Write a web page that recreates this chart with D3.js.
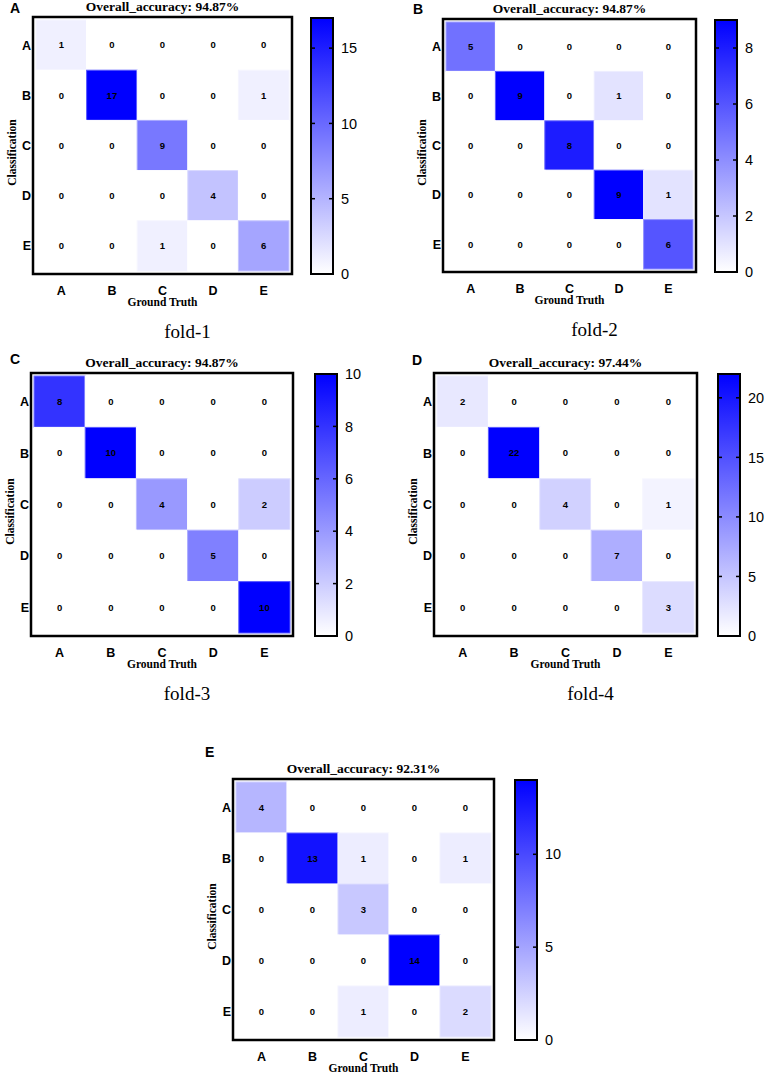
<!DOCTYPE html>
<html>
<head>
<meta charset="utf-8">
<script src="https://cdn.jsdelivr.net/npm/d3@7"></script>
<style>
  body { margin: 0; background: #fff; }
  svg { display: block; }
  .sans { font-family: "Liberation Sans", Arial, sans-serif; }
  .serif { font-family: "Liberation Serif", "Times New Roman", serif; }
</style>
</head>
<body>
<div id="chart"></div>
<script>
var width = 765,
    height = 1084;

// data
var classes = ["A", "B", "C", "D", "E"];
var foldNames = ["fold-1", "fold-2", "fold-3", "fold-4", ""];
var panelLetters = ["A", "B", "C", "D", "E"];
var accuracy = [94.87, 94.87, 94.87, 97.44, 92.31];

// rows = Classification, cols = Ground Truth
var fold1 = [[1,0,0,0,0],[0,17,0,0,1],[0,0,9,0,0],[0,0,0,4,0],[0,0,1,0,6]];
var fold2 = [[5,0,0,0,0],[0,9,0,1,0],[0,0,8,0,0],[0,0,0,9,1],[0,0,0,0,6]];
var fold3 = [[8,0,0,0,0],[0,10,0,0,0],[0,0,4,0,2],[0,0,0,5,0],[0,0,0,0,10]];
var fold4 = [[2,0,0,0,0],[0,22,0,0,0],[0,0,4,0,1],[0,0,0,7,0],[0,0,0,0,3]];
var fold5 = [[4,0,0,0,0],[0,13,1,0,1],[0,0,3,0,0],[0,0,0,14,0],[0,0,1,0,2]];
var matrices = [fold1, fold2, fold3, fold4, fold5];

var colorMax = [17, 9, 10, 22, 14];
var colorTicks = [[0,5,10,15],[0,2,4,6,8],[0,2,4,6,8,10],[0,5,10,15,20],[0,5,10]];

// layout of each panel (box, colour bar, panel letter)
var layout = [
  {x: 33,  y: 17,  w: 259, h: 257, cb: 311, lx: 10,  ly: 13},
  {x: 443, y: 19,  w: 253, h: 253, cb: 715, lx: 413, ly: 14},
  {x: 31,  y: 373, w: 262, h: 263, cb: 315, lx: 10,  ly: 364},
  {x: 434, y: 373, w: 263, h: 263, cb: 718, lx: 412, ly: 365},
  {x: 233, y: 779, w: 261, h: 261, cb: 515, lx: 205, ly: 757}
];

var svg = d3.select("#chart").append("svg")
    .attr("width", width)
    .attr("height", height);

var defs = svg.append("defs");
var grad = defs.append("linearGradient")
    .attr("id", "cbgrad")
    .attr("x1", 0).attr("y1", 1).attr("x2", 0).attr("y2", 0);
grad.append("stop").attr("offset", "0%").attr("stop-color", "#ffffff");
grad.append("stop").attr("offset", "100%").attr("stop-color", "#0000ff");

matrices.forEach(function(m, i) {
  var L = layout[i];
  var g = svg.append("g");
  var pad = 3;

  var color = d3.scaleLinear()
      .domain([0, colorMax[i]])
      .range(["#ffffff", "#0000ff"])
      .clamp(true);

  var xs = d3.scaleBand().domain(classes).range([L.x + pad, L.x + L.w - pad]);
  var ys = d3.scaleBand().domain(classes).range([L.y + pad, L.y + L.h - pad]);

  var cells = [];
  m.forEach(function(row, r) {
    row.forEach(function(v, c) {
      cells.push({row: classes[r], col: classes[c], v: v});
    });
  });

  g.selectAll("rect.cell")
    .data(cells)
    .enter().append("rect")
    .attr("class", "cell")
    .attr("x", function(d) { return xs(d.col); })
    .attr("y", function(d) { return ys(d.row); })
    .attr("width", xs.bandwidth())
    .attr("height", ys.bandwidth())
    .attr("fill", function(d) { return color(d.v); })
    .attr("stroke", function(d) { return d3.interpolateRgb(color(d.v), "#ffffff")(0.35); })
    .attr("stroke-width", 1);

  g.selectAll("text.val")
    .data(cells)
    .enter().append("text")
    .attr("class", "sans")
    .attr("x", function(d) { return xs(d.col) + xs.bandwidth() / 2; })
    .attr("y", function(d) { return ys(d.row) + ys.bandwidth() / 2; })
    .attr("text-anchor", "middle")
    .attr("dy", "0.35em")
    .style("font-size", "9.5px")
    .style("font-weight", "600")
    .text(function(d) { return d.v; });

  // frame
  g.append("rect")
    .attr("x", L.x).attr("y", L.y)
    .attr("width", L.w).attr("height", L.h)
    .attr("fill", "none")
    .attr("stroke", "#000")
    .attr("stroke-width", 2.5);

  // row labels
  g.selectAll("text.rowlab")
    .data(classes)
    .enter().append("text")
    .attr("class", "sans")
    .attr("x", L.x - 2)
    .attr("y", function(d) { return ys(d) + ys.bandwidth() / 2; })
    .attr("dy", "0.36em")
    .attr("text-anchor", "end")
    .style("font-size", "12.5px")
    .style("font-weight", "bold")
    .text(function(d) { return d; });

  // column labels
  g.selectAll("text.collab")
    .data(classes)
    .enter().append("text")
    .attr("class", "sans")
    .attr("x", function(d) { return xs(d) + xs.bandwidth() / 2; })
    .attr("y", L.y + L.h + 21)
    .attr("text-anchor", "middle")
    .style("font-size", "12.5px")
    .style("font-weight", "bold")
    .text(function(d) { return d; });

  g.append("text")
    .attr("class", "serif")
    .attr("x", L.x + L.w / 2)
    .attr("y", L.y + L.h + 32)
    .attr("text-anchor", "middle")
    .style("font-size", "11.5px")
    .style("font-weight", "bold")
    .text("Ground Truth");

  g.append("text")
    .attr("class", "serif")
    .attr("transform", "translate(" + (L.x - 17) + "," + (L.y + L.h / 2 + 7) + ") rotate(-90)")
    .attr("text-anchor", "middle")
    .style("font-size", "11.5px")
    .style("font-weight", "bold")
    .text("Classification");

  g.append("text")
    .attr("class", "serif")
    .attr("x", L.x + L.w / 2)
    .attr("y", L.y - 6.5)
    .attr("text-anchor", "middle")
    .style("font-size", "13.5px")
    .style("font-weight", "bold")
    .text("Overall_accuracy: " + accuracy[i].toFixed(2) + "%");

  g.append("text")
    .attr("class", "sans")
    .attr("x", L.lx)
    .attr("y", L.ly)
    .style("font-size", "14px")
    .style("font-weight", "bold")
    .text(panelLetters[i]);

  if (foldNames[i]) {
    g.append("text")
      .attr("class", "serif")
      .attr("x", L.x + L.w / 2 + 25)
      .attr("y", L.y + L.h + 64)
      .attr("text-anchor", "middle")
      .style("font-size", "19px")
      .text(foldNames[i]);
  }

  // colour bar
  var cbW = 22;
  var cy = d3.scaleLinear().domain([0, colorMax[i]]).range([L.y + L.h, L.y + 1]);
  g.append("rect")
    .attr("x", L.cb).attr("y", L.y + 1)
    .attr("width", cbW).attr("height", L.h - 1)
    .attr("fill", "url(#cbgrad)")
    .attr("stroke", "#000")
    .attr("stroke-width", 2);

  var ticks = g.selectAll("g.cbtick")
    .data(colorTicks[i].filter(function(t) { return t > 0; }))
    .enter().append("g");
  ticks.append("line")
    .attr("x1", L.cb).attr("x2", L.cb + 4)
    .attr("y1", function(d) { return cy(d); })
    .attr("y2", function(d) { return cy(d); })
    .attr("stroke", "#000").attr("stroke-width", 1.5);
  ticks.append("line")
    .attr("x1", L.cb + cbW - 4).attr("x2", L.cb + cbW)
    .attr("y1", function(d) { return cy(d); })
    .attr("y2", function(d) { return cy(d); })
    .attr("stroke", "#000").attr("stroke-width", 1.5);

  var axis = d3.axisRight(cy).tickValues(colorTicks[i]).tickSize(0).tickPadding(8);
  var ax = g.append("g")
    .attr("transform", "translate(" + (L.cb + cbW) + ",0)")
    .call(axis);
  ax.select(".domain").remove();
  ax.selectAll("text")
    .attr("class", "sans")
    .style("font-family", "'Liberation Sans', Arial, sans-serif")
    .style("font-size", "14.5px")
    .attr("fill", "#000");
});
</script>
</body>
</html>
